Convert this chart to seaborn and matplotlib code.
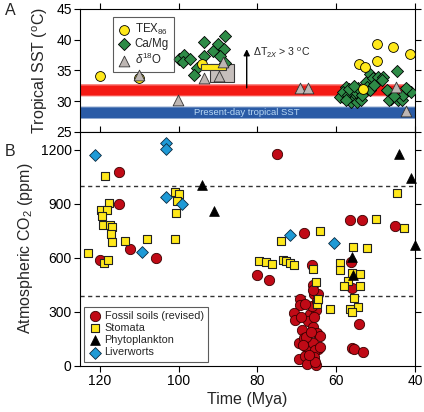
import numpy as np
import pandas as pd
import matplotlib
matplotlib.use("Agg")
import matplotlib.pyplot as plt
import matplotlib.patches as mpatches
import seaborn as sns

# ---- panel A: tropical SST ----
tex_age = [120, 110, 94.1, 54.3, 52.7, 49.6, 49.6, 45.5, 41.2, 53.2]
tex_sst = [34.0, 33.7, 36.0, 36.1, 35.5, 36.5, 39.3, 38.75, 37.7, 32.0]

camg_age = [99.8, 98.5, 98.9, 97.2, 95.3, 96.2, 93.5, 93.6, 91.2, 90.0, 88.3, 88.4, 89.6, 88.1,
            58.2, 59.1, 57.4, 56.1, 58.2, 57.0, 55.7, 54.4, 56.3, 57.5, 54.8, 53.6, 55.0, 54.4,
            53.5, 52.5, 52.3, 51.5, 50.6, 49.4, 48.1, 48.5, 51.5, 50.5, 44.6, 47.2, 46.0, 46.6,
            44.3, 43.4, 43.0, 41.8, 40.9, 42.4, 45.3, 56.8, 55.5]
camg_sst = [36.9, 37.5, 36.3, 36.9, 35.4, 34.2, 39.7, 37.4, 38.2, 39.3, 40.6, 38.5, 37.4, 36.2,
            30.7, 30.6, 32.3, 31.8, 31.5, 31.0, 30.4, 31.25, 29.9, 30.2, 29.9, 30.2, 31.5, 32.1,
            31.0, 33.1, 32.3, 34.4, 33.7, 33.85, 33.95, 33.4, 31.8, 32.6, 34.9, 31.8, 30.4, 30.2,
            30.2, 30.2, 31.0, 31.8, 31.5, 32.2, 30.8, 32.0, 32.4]

d18o_age = [110, 100.2, 93.5, 89.8, 88.8, 69.2, 67.1, 44.7, 42.2]
d18o_sst = [34.2, 30.2, 33.8, 34.1, 36.4, 32.2, 32.2, 32.3, 28.4]

# range boxes (age_old, age_young, sst_low, sst_high)
grey_box = (92.0, 85.8, 33.1, 36.0)
yellow_box = (94.3, 88.0, 35.05, 36.0)

cretaceous_band = (31.0, 32.5)   # red band
present_band = (27.3, 28.9)      # present-day tropical SST

# ---- panel B: atmospheric CO2 ----
soil_age = [115, 115, 112.4, 120, 105.7, 75.0, 80, 77, 68.1, 56.5, 53.5, 45.0, 56.2, 66.1,
            56.1, 54.2, 56.1, 55.5, 53.1, 65.8,
            65.6, 64.5, 69.1, 69.2, 70.7, 66.7, 65.2, 70.5, 67.1, 65.7, 68.6, 66.0, 64.8, 64.2,
            69.5, 68.2, 67.7, 66.0, 64.6, 65.4, 69.5, 67.9, 65.6, 67.5, 65.1, 65.3, 65.8, 67.7,
            68.3, 64.1, 66.2, 64.9, 66.5, 67.0, 69.0, 68.0]
soil_co2 = [1077, 900, 650, 590, 598, 1177, 504, 475, 738, 812, 812, 775, 574, 557,
            434, 229, 96, 94, 78, 450,
            400, 397, 373, 336, 293, 290, 308, 253, 249, 271, 201, 216, 179, 164,
            124, 152, 105, 124, 92, 87, 35, 54, 46, 9, 2, 22, 423, 157,
            115, 102, 330, 360, 185, 60, 270, 345]

stomata_age = [118.7, 117.7, 119.6, 118.1, 119.5, 119.2, 117.5, 116.8, 117.1, 116.9, 113.5, 108.0,
               101.0, 123.0, 119.0, 117.8, 100.8, 99.9, 100.4, 100.7,
               44.6, 50.0, 42.9, 64.0, 55.8, 52.2, 59.1, 59.1, 66.0, 65.1, 54.0, 56.1, 57.0, 58.1,
               54.0, 55.5, 54.4, 56.5, 56.1, 61.5, 64.8, 64.6,
               74.0, 79.6, 77.9, 76.2, 73.6, 72.7, 71.7, 70.7]
stomata_co2 = [1055, 904, 863, 863, 834, 779, 779, 768, 731, 690, 694, 705,
               705, 627, 570, 589, 967, 952, 915, 847,
               960, 816, 764, 751, 662, 653, 572, 533, 535, 465, 511, 515, 470, 443,
               441, 376, 327, 314, 299, 314, 341, 369,
               692, 581, 578, 567, 589, 581, 570, 559]

phyto_age = [94.0, 91.0, 44.1, 41.1, 40.1, 56.1, 55.7]
phyto_co2 = [1004, 860, 1175, 1043, 672, 603, 502]

liver_age = [121.1, 103.1, 103.1, 103.1, 99.0, 109.3, 60.5, 71.8]
liver_co2 = [1171, 1240, 1203, 935, 899, 631, 679, 725]

co2_refs = [1000, 390]
time_ticks = [120, 100, 80, 60, 40]

sns.set_style("ticks")
plt.rcParams['font.family'] = ['Liberation Sans', 'DejaVu Sans']
plt.rcParams['mathtext.fontset'] = 'custom'
plt.rcParams['mathtext.rm'] = 'Liberation Sans'
plt.rcParams['mathtext.it'] = 'Liberation Sans:italic'
plt.rcParams['axes.linewidth'] = 0.8

fig = plt.figure(figsize=(4.24, 4.12), dpi=100)
axA = fig.add_axes([80 / 424, 1 - 131.7 / 412, 335 / 424, 122.7 / 412])
axB = fig.add_axes([80 / 424, 1 - 365.7 / 412, 335 / 424, 234 / 412])

for ax in (axA, axB):
    ax.set_xlim(125, 40)
    ax.set_xticks(time_ticks)
    ax.tick_params(direction='out', length=4, width=0.8, top=True, right=True,
                   labelsize=10, colors='black', pad=2)
    for s in ax.spines.values():
        s.set_color('black')
        s.set_linewidth(0.8)

# ---- A ----
axA.set_ylim(25, 45)
axA.set_yticks([25, 30, 35, 40, 45])
axA.set_xticklabels([])

# fuzzy bands
red_span = (125 - 42.8) / 85
lo, hi = cretaceous_band
for k, a in enumerate([0.25, 0.35, 0.5, 1.0]):
    pad = 0.3 - k * 0.1
    axA.axhspan(lo - pad, hi + pad, xmin=0, xmax=red_span, color='#f41a14', alpha=a, lw=0, zorder=1)
lo, hi = present_band
for k, a in enumerate([0.25, 0.35, 0.5, 1.0]):
    pad = 0.3 - k * 0.1
    axA.axhspan(lo - pad, hi + pad, color='#2a5ba6', alpha=a, lw=0, zorder=1)
axA.text(82.6, np.mean(present_band), 'Present-day tropical SST', color='#b8d8f4',
         fontsize=6.8, ha='center', va='center', zorder=2)

g = grey_box
axA.add_patch(mpatches.Rectangle((g[1], g[2]), g[0] - g[1], g[3] - g[2], facecolor='#c6bfbc',
                                 edgecolor='#3a3a3a', lw=0.8, zorder=2))

sns.scatterplot(x=camg_age, y=camg_sst, ax=axA, marker='D', s=38, color='#2e8b47',
                edgecolor='black', linewidth=0.6, zorder=3, label='Ca/Mg')
sns.scatterplot(x=tex_age, y=tex_sst, ax=axA, marker='o', s=50, color='#ffe81a',
                edgecolor='black', linewidth=0.6, zorder=4, label='TEX$_{86}$')
y = yellow_box
axA.add_patch(mpatches.Rectangle((y[1], y[2]), y[0] - y[1], y[3] - y[2], facecolor='#ffe81a',
                                 edgecolor='#3a3a3a', lw=0.8, zorder=5))
sns.scatterplot(x=d18o_age, y=d18o_sst, ax=axA, marker='^', s=60, color='#bdb6b3',
                edgecolor='#333333', linewidth=0.6, zorder=6, label='$\\delta^{18}$O')

axA.annotate('', xy=(82.7, 38.9), xytext=(82.7, 31.7),
             arrowprops=dict(arrowstyle='-|>', color='black', lw=1, mutation_scale=9), zorder=7)
axA.text(81.0, 37.8, '$\\Delta$T$_{2X}$ > 3 $^{\\rm o}$C', fontsize=7.6, ha='left', va='center')

h, l = axA.get_legend_handles_labels()
order = [1, 0, 2]
legA = axA.legend([h[i] for i in order], [l[i] for i in order], loc='upper left',
                  bbox_to_anchor=(0.098, 0.935), borderaxespad=0, fontsize=8.3, frameon=True,
                  fancybox=False, edgecolor='#333333', handletextpad=0.3, labelspacing=0.15,
                  borderpad=0.4, handlelength=1.2)
legA.get_frame().set_linewidth(0.8)
axA.set_ylabel('Tropical SST ($^{\\rm o}$C)', fontsize=11.5, labelpad=4)

# ---- B ----
axB.set_ylim(0, 1300)
axB.set_yticks([0, 300, 600, 900, 1200])
for v in co2_refs:
    axB.axhline(v, color='#333333', ls=(0, (3, 2.5)), lw=1, zorder=1)

sns.scatterplot(x=soil_age, y=soil_co2, ax=axB, marker='o', s=55, color='#c00a16',
                edgecolor='#3a0000', linewidth=0.6, zorder=3, clip_on=False,
                label='Fossil soils (revised)')
sns.scatterplot(x=stomata_age, y=stomata_co2, ax=axB, marker='s', s=36, color='#ffe81a',
                edgecolor='#222222', linewidth=0.8, zorder=4, label='Stomata')
sns.scatterplot(x=phyto_age, y=phyto_co2, ax=axB, marker='^', s=50, color='black',
                edgecolor='black', linewidth=0.5, zorder=5, clip_on=False, label='Phytoplankton')
sns.scatterplot(x=liver_age, y=liver_co2, ax=axB, marker='D', s=36, color='#1e9ad6',
                edgecolor='#0a2a40', linewidth=0.6, zorder=5, label='Liverworts')

legB = axB.legend(loc='lower left', bbox_to_anchor=(0.012, 0.017), borderaxespad=0,
                  fontsize=7.8, frameon=True, fancybox=False, edgecolor='#333333',
                  handletextpad=0.3, labelspacing=0.2, borderpad=0.4, handlelength=1.2)
legB.get_frame().set_linewidth(0.8)
axB.set_ylabel('Atmospheric CO$_2$ (ppm)', fontsize=11.5, labelpad=4)
axB.set_xlabel('Time (Mya)', fontsize=11.5, labelpad=3)

fig.text(0.012, 0.975, 'A', fontsize=11.5, va='center')
fig.text(0.012, 0.632, 'B', fontsize=11.5, va='center')

fig.savefig('out.png', dpi=100)
